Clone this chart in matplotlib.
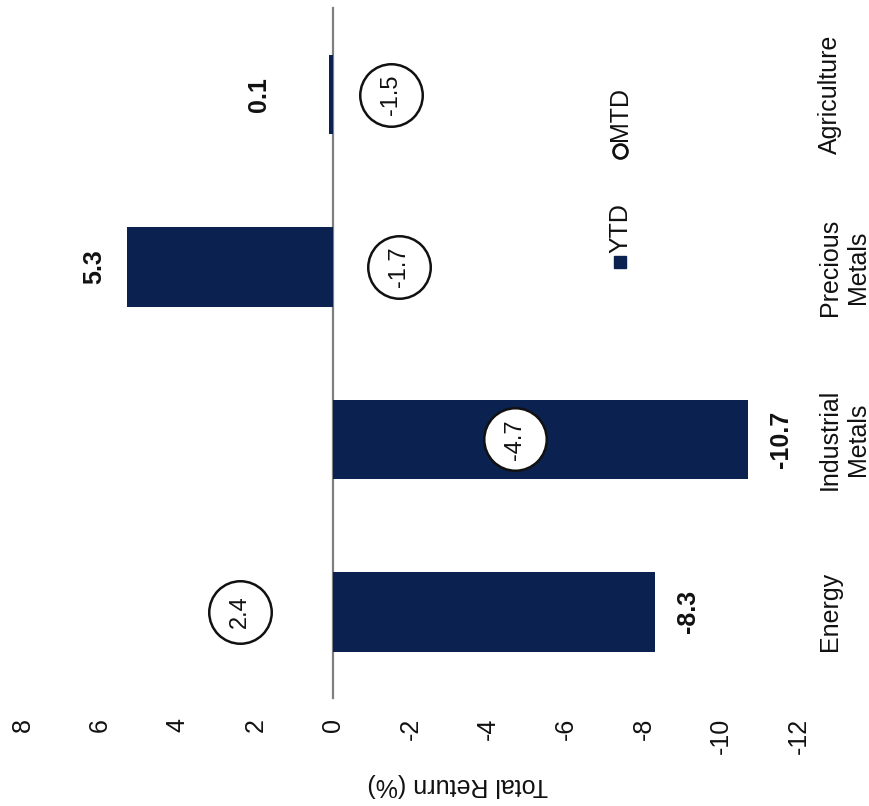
import matplotlib

matplotlib.use("Agg")

import matplotlib.pyplot as plt
import numpy as np

plt.rcParams["font.family"] = ["Liberation Sans", "DejaVu Sans"]

# Commodity sector total returns (%)
sectors = ["Energy", "Industrial\nMetals", "Precious\nMetals", "Agriculture"]
ytd = [-8.3, -10.7, 5.3, 0.1]
mtd = [2.4, -4.7, -1.7, -1.5]
value_ticks = [8, 6, 4, 2, 0, -2, -4, -6, -8, -10, -12]

NAVY = "#0b2150"
INK = "#111111"
FS = 18

fig = plt.figure(figsize=(8.69, 8.06), dpi=100)
# whole chart is drawn turned a quarter turn: value axis runs left (+) to right (-)
ax = fig.add_axes([0, 98 / 806, 808 / 869, 708 / 806])
ax.set_xlim(8.58, -12.24)
ax.set_ylim(-0.557, 3.548)

pos = np.arange(len(sectors))
ax.barh(pos, ytd, height=0.46, color=NAVY, zorder=2)
ax.plot([0, 0], [-0.5, len(sectors) - 0.5], color="#7f7f7f", linewidth=1.6, zorder=1)

# YTD value labels just beyond the bar end
for y, v in zip(pos, ytd):
    sign = 1 if v >= 0 else -1
    x = sign * max(abs(v) + 0.85, 1.9)
    ax.text(x, y, f"{v:.1f}", rotation=90, ha="center", va="center",
            fontsize=FS, fontweight="bold", color=INK, zorder=4)

# MTD values in open circles
ax.plot(mtd, pos, linestyle="none", marker="o", markersize=45,
        markerfacecolor="white", markeredgecolor=INK, markeredgewidth=1.8, zorder=3)
for y, v in zip(pos, mtd):
    ax.text(v, y, f"{v:.1f}", rotation=90, ha="center", va="center",
            fontsize=FS - 1, color=INK, zorder=5)

# legend, laid along the rotated text direction
ax.plot([-7.4], [2.03], linestyle="none", marker="s", markersize=9, color=NAVY)
ax.text(-7.4, 2.08, "YTD", rotation=90, ha="center", va="bottom", fontsize=FS, color=INK)
ax.plot([-7.4], [2.672], linestyle="none", marker="o", markersize=10,
        markerfacecolor="white", markeredgecolor=INK, markeredgewidth=2.0)
ax.text(-7.4, 2.73, "MTD", rotation=90, ha="center", va="bottom", fontsize=FS, color=INK)

ax.set_xticks(value_ticks)
ax.set_xticklabels([str(t) for t in value_ticks], rotation=90, ha="center", va="top",
                   fontsize=FS, color=INK)
ax.tick_params(axis="x", length=0, pad=7)

ax.yaxis.tick_right()
ax.set_yticks(pos)
ax.set_yticklabels(sectors, rotation=90, ha="left", va="center", multialignment="center",
                   fontsize=FS, color=INK)
ax.tick_params(axis="y", length=0, pad=7)

ax.set_xlabel("Total Return (%)", rotation=180, fontsize=FS, color=INK)
ax.xaxis.set_label_coords(458 / 808, (708 - 785) / 708)
ax.xaxis.label.set_va("center")

for spine in ax.spines.values():
    spine.set_visible(False)

fig.savefig("out.png", dpi=100)
plt.close(fig)
